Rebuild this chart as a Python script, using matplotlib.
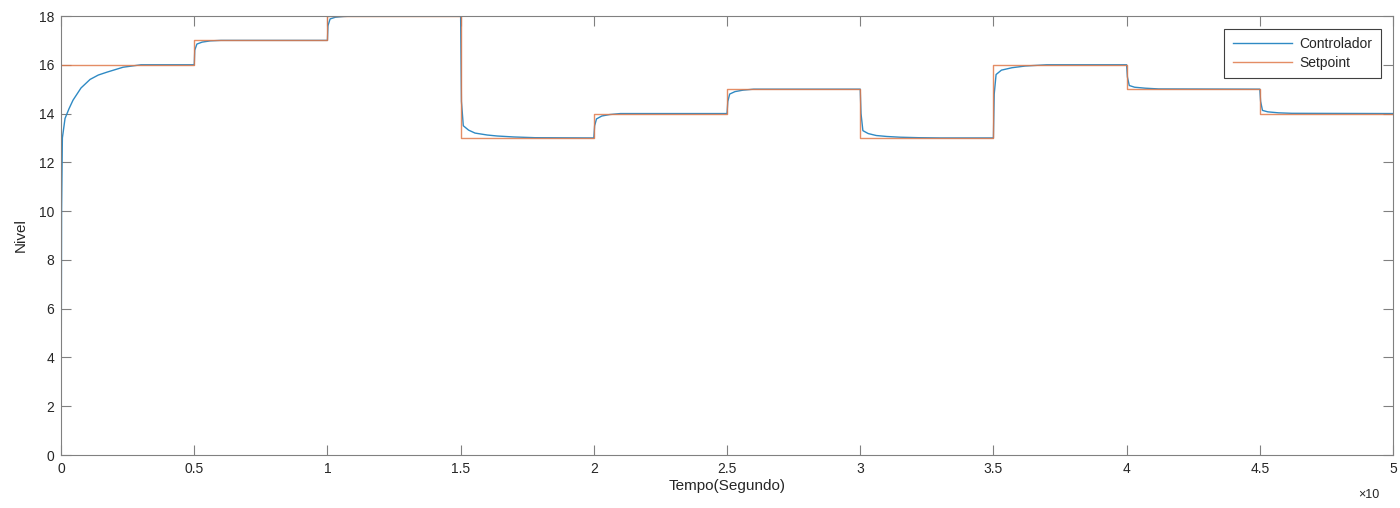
import numpy as np
from matplotlib import pyplot as plt

plt.rcParams['font.family'] = ['Liberation Sans', 'DejaVu Sans']

# setpoint steps (every 0.5 on the x10 time axis)
spTimes = [0, 0.5, 1.0, 1.5, 2.0, 2.5, 3.0, 3.5, 4.0, 4.5, 5.0]
spLevels = [16, 17, 18, 13, 14, 15, 13, 16, 15, 14, 14]

# controller response
ctrlTime = [0, 0.002, 0.005, 0.015, 0.03, 0.045, 0.075, 0.109, 0.14, 0.173, 0.233, 0.3, 0.5,
            0.502, 0.51, 0.53, 0.56, 0.6, 1.0,
            1.002, 1.01, 1.03, 1.06, 1.1, 1.5,
            1.503, 1.51, 1.53, 1.554, 1.6, 1.637, 1.7, 1.78, 2.0,
            2.003, 2.01, 2.03, 2.06, 2.1, 2.5,
            2.503, 2.51, 2.53, 2.56, 2.6, 3.0,
            3.003, 3.01, 3.03, 3.06, 3.1, 3.15, 3.22, 3.3, 3.5,
            3.503, 3.51, 3.53, 3.57, 3.62, 3.7, 4.0,
            4.003, 4.01, 4.03, 4.07, 4.12, 4.5,
            4.503, 4.51, 4.53, 4.57, 4.62, 5.0]
ctrlLevel = [0, 10.0, 13.0, 13.8, 14.2, 14.55, 15.05, 15.4, 15.58, 15.7, 15.9, 16.0, 16.0,
             16.6, 16.85, 16.93, 16.98, 17.0, 17.0,
             17.6, 17.88, 17.95, 17.98, 18.0, 18.0,
             14.5, 13.5, 13.32, 13.2, 13.12, 13.08, 13.04, 13.01, 13.0,
             13.5, 13.78, 13.9, 13.96, 14.0, 14.0,
             14.5, 14.8, 14.9, 14.96, 15.0, 15.0,
             14.0, 13.3, 13.18, 13.1, 13.06, 13.03, 13.01, 13.0, 13.0,
             14.8, 15.6, 15.78, 15.88, 15.95, 16.0, 16.0,
             15.5, 15.15, 15.08, 15.04, 15.01, 15.0,
             14.5, 14.13, 14.07, 14.03, 14.01, 14.0]

textColor = '#262626'
boxColor = '#808080'

fig = plt.figure(figsize=(14, 5.08), dpi=100)
ax = fig.add_axes([0.0436, 0.1043, 0.9514, 0.8642])

ax.plot(ctrlTime, ctrlLevel, color='#2f8ac4', linewidth=1.0, label='Controlador')
ax.step(spTimes, spLevels, where='post', color='#e0794a', linewidth=1.0, alpha=0.85,
        label='Setpoint')

ax.set_xlim(0, 5)
ax.set_ylim(0, 18)
ax.set_xticks(np.arange(0, 5.01, 0.5))
ax.set_xticklabels(['0', '0.5', '1', '1.5', '2', '2.5', '3', '3.5', '4', '4.5', '5'])
ax.set_yticks(np.arange(0, 19, 2))

ax.tick_params(direction='in', length=7, width=0.8, top=True, right=True,
               colors=boxColor, labelcolor=textColor, labelsize=10, pad=5)
for spine in ax.spines.values():
    spine.set_color(boxColor)
    spine.set_linewidth(0.8)

ax.set_xlabel('Tempo(Segundo)', fontsize=11, color=textColor, labelpad=2)
ax.set_ylabel('Nivel', fontsize=11, color=textColor, labelpad=8)
fig.text(0.978, 0.025, '×10', fontsize=9, color=textColor, ha='center', va='center')

lgd = ax.legend(loc='upper right', fontsize=10, fancybox=False, framealpha=1,
                edgecolor='#404040', handlelength=4.3, handletextpad=0.5,
                borderaxespad=0.9, labelspacing=0.35, borderpad=0.6)
lgd.get_frame().set_linewidth(0.8)
for txt in lgd.get_texts():
    txt.set_color(textColor)

fig.savefig('out.png', dpi=100)
